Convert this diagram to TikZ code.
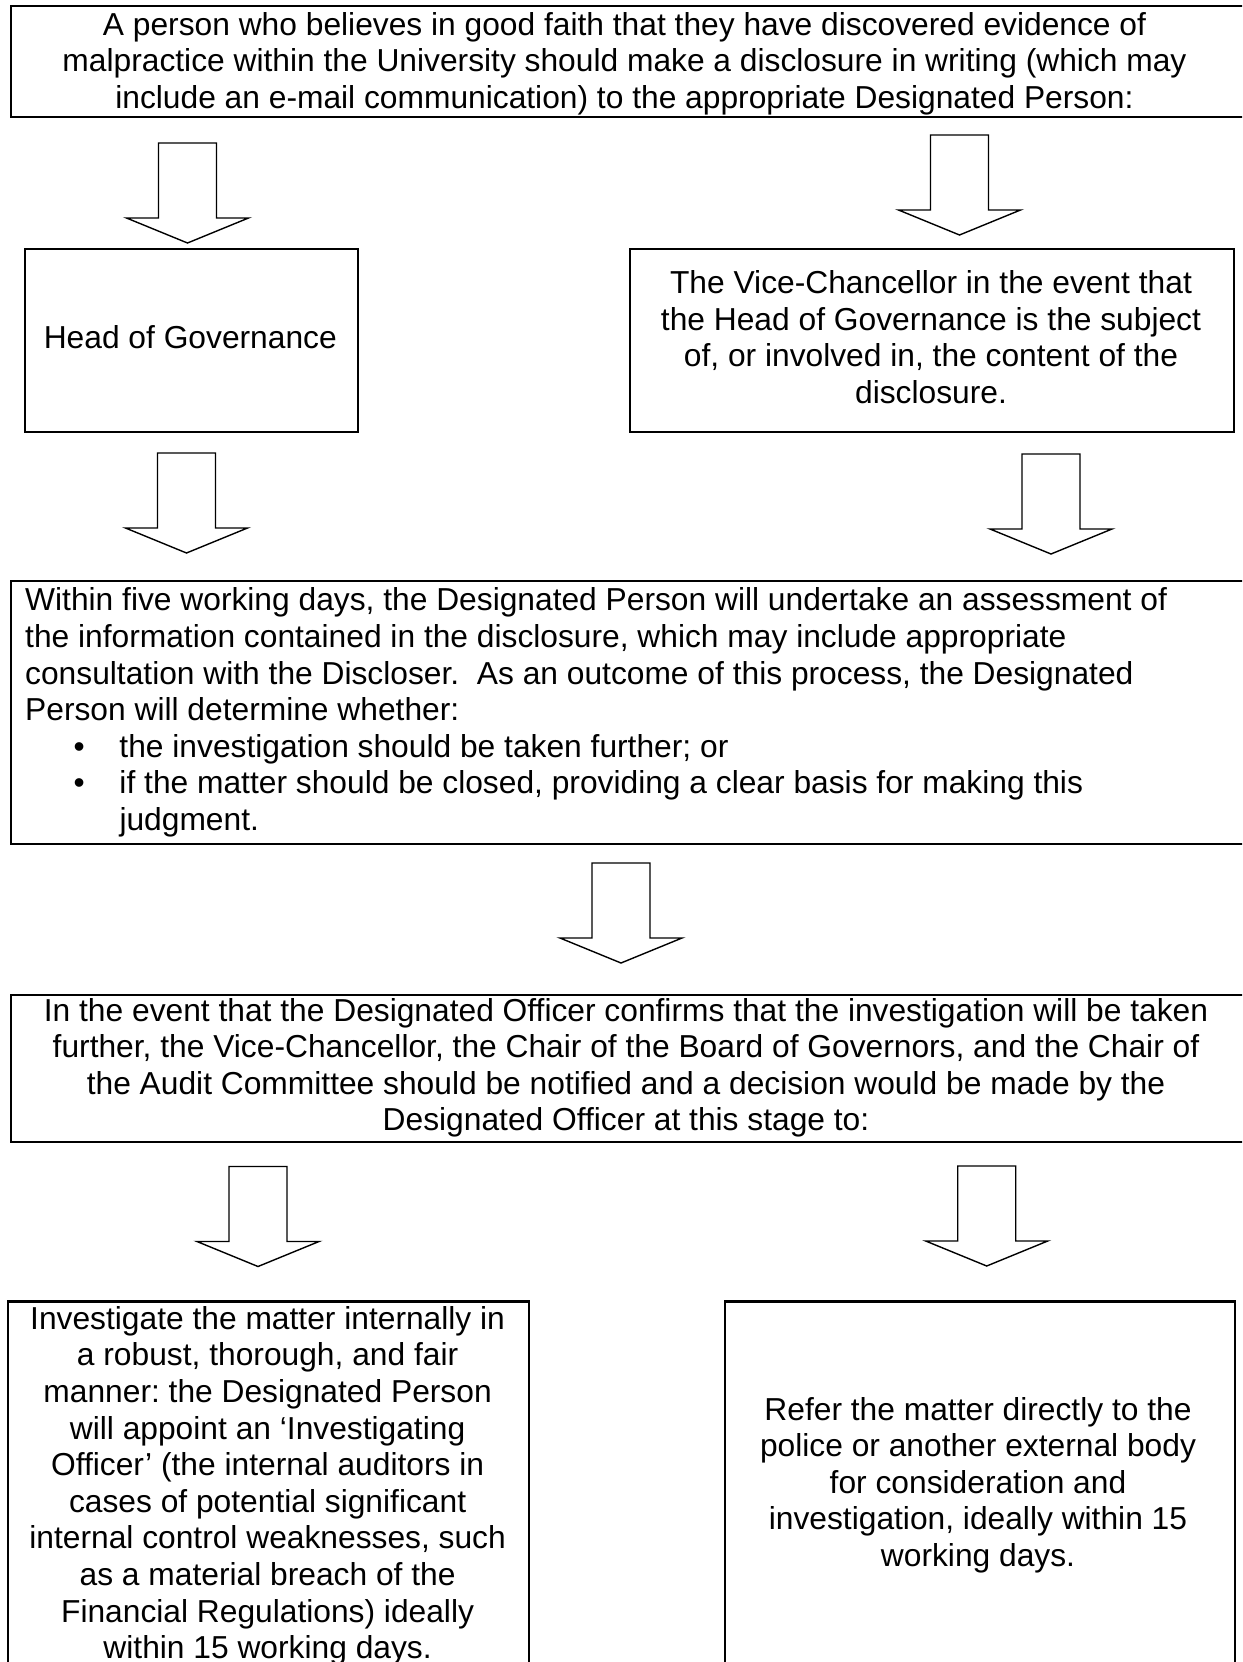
\documentclass[tikz,border=0pt]{standalone}
\usepackage{fontspec}
\setmainfont{Liberation Sans}
\newcommand\mybullet{\makebox[94.3pt][l]{\hspace*{49pt}\makebox[10pt][c]{•}}}
\frenchspacing
\begin{document}
\begin{tikzpicture}[x=1pt,y=-1pt,
  box/.style={draw, line width=2.2pt, inner sep=0pt, anchor=north west},
  txt/.style={font=\fontsize{31.75}{36.6}\selectfont, inner sep=0pt, align=center, anchor=north},
  ltxt/.style={font=\fontsize{31.75}{36.6}\selectfont, inner sep=0pt, align=left, anchor=north west},
  arrowline/.style={draw, line width=1.4pt, line join=miter, fill=white},
  blockarrow/.pic={\path[arrowline] (-29,0) -- (29,0) -- (29,75) -- (61,75) -- (0,100) -- (-61,75) -- (-29,75) -- cycle;}
]
\useasboundingbox (0,0) rectangle (1242,1662);
\clip (0,0) rectangle (1242,1662);
\fill[white] (0,0) rectangle (1242,1662);

% boxes
\node[box, minimum width=1234.5pt, minimum height=111pt] (topbox) at (9.5,5) {};
\node[box, minimum width=333.3pt, minimum height=183pt] (head) at (23.7,248) {};
\node[box, minimum width=604pt, minimum height=183pt] (vc) at (629,248) {};
\node[box, minimum width=1234.3pt, minimum height=262.7pt] (assess) at (9.7,580) {};
\node[box, minimum width=1234.3pt, minimum height=147.1pt] (event) at (9.7,993.6) {};
\node[box, minimum width=521pt, minimum height=420pt] (internal) at (7,1300.3) {};
\node[box, minimum width=510.3pt, minimum height=420pt] (refer) at (723.7,1300.3) {};

% texts
\node[txt] (ttop) at (624.5,9.3) {\strut A person who believes in good faith that they have discovered evidence of\\
malpractice within the University should make a disclosure in writing (which may\\
include an e-mail communication) to the appropriate Designated Person:};
\node[txt] (thead) at (190.3,322.6) {\strut Head of Governance};
\node[txt] (tvc) at (931,267.6) {\strut The Vice-Chancellor in the event that\\
the Head of Governance is the subject\\
of, or involved in, the content of the\\
disclosure.};
\node[ltxt] (tassess) at (25,585.1) {\strut Within five working days, the Designated Person will undertake an assessment of\\
the information contained in the disclosure, which may include appropriate\\
consultation with the Discloser.\ \ As an outcome of this process, the Designated\\
Person will determine whether:\\
\mybullet the investigation should be taken further; or\\
\mybullet if the matter should be closed, providing a clear basis for making this\\
\hspace*{94.3pt}judgment.};
\node[txt] (tevent) at (626,995.3) {\strut In the event that the Designated Officer confirms that the investigation will be taken\\
further, the Vice-Chancellor, the Chair of the Board of Governors, and the Chair of\\
the Audit Committee should be notified and a decision would be made by the\\
Designated Officer at this stage to:};
\node[txt] (tinternal) at (267.6,1303.4) {\strut Investigate the matter internally in\\
a robust, thorough, and fair\\
manner: the Designated Person\\
will appoint an ‘Investigating\\
Officer’ (the internal auditors in\\
cases of potential significant\\
internal control weaknesses, such\\
as a material breach of the\\
Financial Regulations) ideally\\
within 15 working days.};
\node[txt] (trefer) at (978,1394.2) {\strut Refer the matter directly to the\\
police or another external body\\
for consideration and\\
investigation, ideally within 15\\
working days.};

% block arrows
\pic (a1) at (187.5,143) {blockarrow};
\pic (a2) at (959.5,135) {blockarrow};
\pic (a3) at (186.5,453) {blockarrow};
\pic (a4) at (1051,454) {blockarrow};
\pic (a5) at (621,863) {blockarrow};
\pic (a6) at (258,1166.5) {blockarrow};
\pic (a7) at (986.7,1166) {blockarrow};
\end{tikzpicture}
\end{document}
